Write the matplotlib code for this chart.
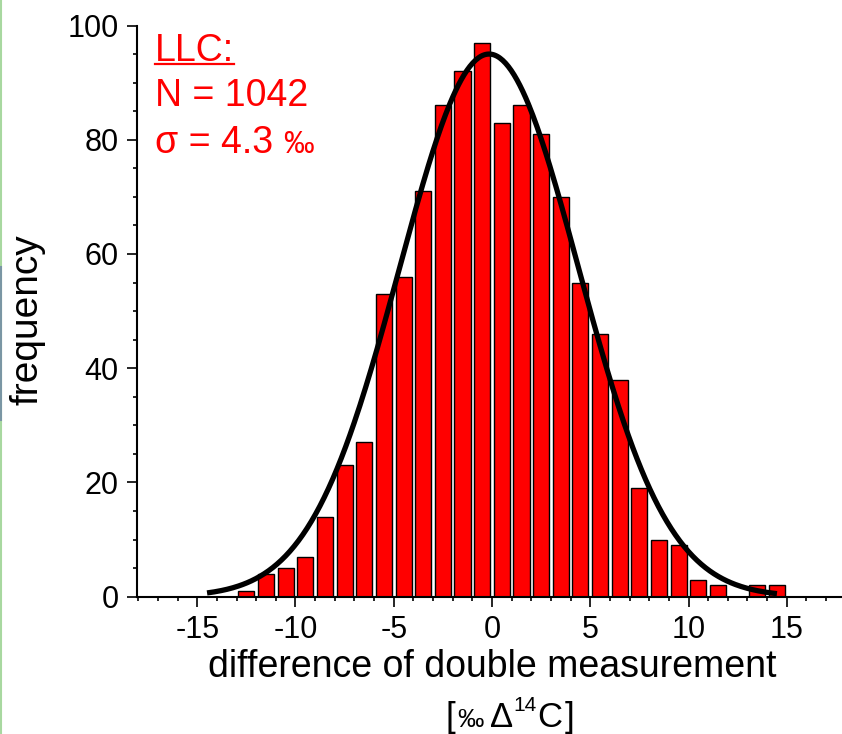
import numpy as np
import matplotlib
matplotlib.use("Agg")
import matplotlib.pyplot as plt
from matplotlib.lines import Line2D
from matplotlib.ticker import MultipleLocator

plt.rcParams['font.family'] = ['Liberation Sans', 'DejaVu Sans']
plt.rcParams['axes.unicode_minus'] = False

# ---- data ----
bin_centers = [-12.5, -11.5, -10.5, -9.5, -8.5, -7.5, -6.5, -5.5, -4.5, -3.5,
               -2.5, -1.5, -0.5, 0.5, 1.5, 2.5, 3.5, 4.5, 5.5, 6.5,
               7.5, 8.5, 9.5, 10.5, 11.5, 12.5, 13.5, 14.5]
counts = [1, 4, 5, 7, 14, 23, 27, 53, 56, 71,
          86, 92, 97, 83, 86, 81, 70, 55, 46, 38,
          19, 10, 9, 3, 2, 0, 2, 2]
fit_amplitude = 95.0
fit_center = -0.15
fit_sigma = 4.55
fit_range = (-14.5, 14.5)
x_ticks = [-15, -10, -5, 0, 5, 10, 15]
y_ticks = [0, 20, 40, 60, 80, 100]

W, H = 842, 734
fig = plt.figure(figsize=(W / 100, H / 100), dpi=100)

def px(x, y):
    return x / W, 1 - y / H

ax_left, ax_right = 136.7, 842
ax_top, ax_bottom = 25.5, 596.7
ax = fig.add_axes([ax_left / W, 1 - ax_bottom / H,
                   (ax_right - ax_left) / W, (ax_bottom - ax_top) / H])

ax.bar(bin_centers, counts, width=0.82, color='#ff0000', edgecolor='black',
       linewidth=1.0, zorder=2)

xs = np.linspace(fit_range[0], fit_range[1], 400)
ys = fit_amplitude * np.exp(-0.5 * ((xs - fit_center) / fit_sigma) ** 2)
ax.plot(xs, ys, color='black', lw=3.8, zorder=3, solid_capstyle='butt')

ax.set_xlim(-18.08, 17.81)
ax.set_ylim(0, 100)
ax.set_xticks(x_ticks)
ax.set_yticks(y_ticks)
ax.xaxis.set_minor_locator(MultipleLocator(1))
ax.yaxis.set_minor_locator(MultipleLocator(5))
for s in ['top', 'right']:
    ax.spines[s].set_visible(False)
for s in ['left', 'bottom']:
    ax.spines[s].set_linewidth(1.5)
ax.tick_params(which='major', direction='out', length=7, width=1.2,
               labelsize=22, pad=6)
ax.tick_params(which='minor', direction='out', length=3.2, width=1.2)
ax.patch.set_visible(False)

# y label
fig.text(*px(28, 320), 'frequency', rotation=90, ha='center', va='center',
         fontsize=28)

# x label line 1
fig.text(*px(492, 677), 'difference of double measurement', ha='center',
         va='baseline', fontsize=27)

renderer = fig.canvas.get_renderer()

def runs(x0, y0, pieces, color='black'):
    x = x0
    for s, size, dy, gap in pieces:
        t = fig.text(*px(x, y0 - dy), s, ha='left', va='baseline',
                     fontsize=size, color=color)
        w = t.get_window_extent(renderer).width
        x += w + gap
    return x

# x label line 2
runs(446, 727, [('[', 25, 0, 2), ('‰', 19, 0, 6), ('Δ', 25, 0, 0),
                ('14', 15, 16, 1), ('C', 25, 0, 2), (']', 25, 0, 0)])

# annotation
red = '#ff0000'
t = fig.text(*px(155, 61), 'LLC:', ha='left', va='baseline', fontsize=27,
             color=red)
bb = t.get_window_extent(renderer)
fig.add_artist(Line2D([bb.x0 / W, bb.x1 / W], [1 - 63.5 / H] * 2,
                      color=red, lw=1.6, transform=fig.transFigure))
fig.text(*px(155, 106), 'N = 1042', ha='left', va='baseline', fontsize=27,
         color=red)
runs(155, 153, [('σ = 4.3', 27, 0, 10), ('‰', 22, 0, 0)], color=red)

# left border artefact
fig.add_artist(Line2D([1 / W] * 2, [0, 1], color='#a8d8a0', lw=1.5,
                      transform=fig.transFigure))
fig.add_artist(Line2D([1 / W] * 2, [1 - 267 / H, 1 - 420 / H],
                      color='#7a96a4', lw=1.5, transform=fig.transFigure))

fig.savefig('out.png', dpi=100)
